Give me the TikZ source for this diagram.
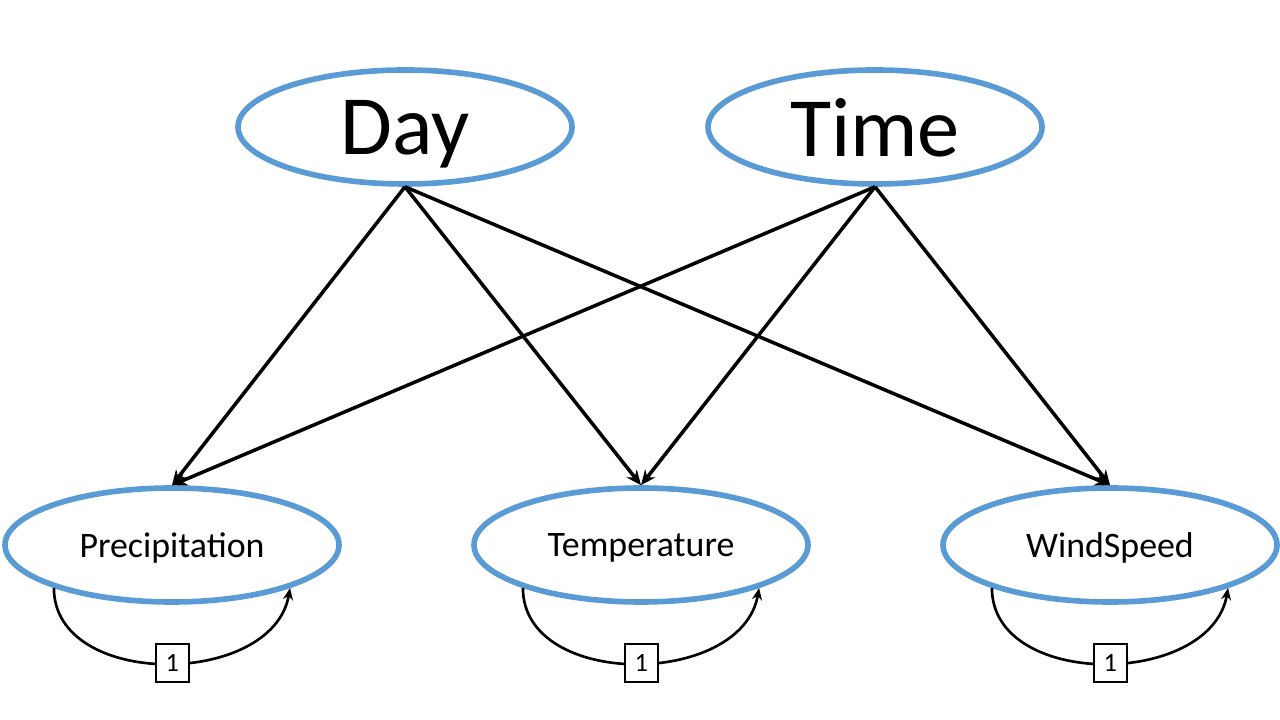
\documentclass[tikz,border=0pt]{standalone}
\usepackage{fontspec}
\setmainfont{Carlito}
\usepackage{tikz}
\usetikzlibrary{arrows.meta,shapes.geometric}
\definecolor{varblue}{HTML}{5B9BD5}
\tikzset{
  var/.style={ellipse, draw=varblue, line width=1.6pt, fill=white,
    minimum width=3.34cm, minimum height=1.14cm, inner sep=0pt, text depth=0pt},
  bigvar/.style={var, font=\fontsize{24}{28}\selectfont},   % Day / Time
  smallvar/.style={var, font=\fontsize{10.2}{12}\selectfont}, % observed variables
  dep/.style={black, line width=1pt, -{Stealth[length=1.5mm,width=1.3mm]}},
  % self-dependence with lag
  lag/.style={black, line width=0.75pt, -{Stealth[length=1.2mm,width=1mm]}},
  lagbox/.style={draw, line width=0.5pt, fill=white, inner sep=0pt,
    minimum width=0.33cm, minimum height=0.38cm, font=\fontsize{7.5}{9}\selectfont},
}

\begin{document}
\begin{tikzpicture}
  \useasboundingbox (0,0) rectangle (12.8,-7.2);
  \node[bigvar] (day) at (4.05,-1.27) {Day};
  \node[bigvar] (time) at (8.75,-1.27) {Time};
  \node[smallvar] (precip) at (1.72,-5.45) {Precipitation};
  \node[smallvar] (temp) at (6.41,-5.45) {Temperature};
  \node[smallvar] (wind) at (11.10,-5.45) {WindSpeed};
  % parents -> children
  \draw[dep] (day.south)--(precip.north);
  \draw[dep] (day.south)--(temp.north);
  \draw[dep] (day.south)--(wind.north);
  \draw[dep] (time.south)--(precip.north);
  \draw[dep] (time.south)--(temp.north);
  \draw[dep] (time.south)--(wind.north);
  % lag-1 loops
  \draw[lag] (precip.200) to[out=-90,in=-100,looseness=1.1] node[lagbox,pos=0.52]{1} (precip.-20);
  \draw[lag] (temp.200) to[out=-90,in=-100,looseness=1.1] node[lagbox,pos=0.52]{1} (temp.-20);
  \draw[lag] (wind.200) to[out=-90,in=-100,looseness=1.1] node[lagbox,pos=0.52]{1} (wind.-20);
\end{tikzpicture}
\end{document}
